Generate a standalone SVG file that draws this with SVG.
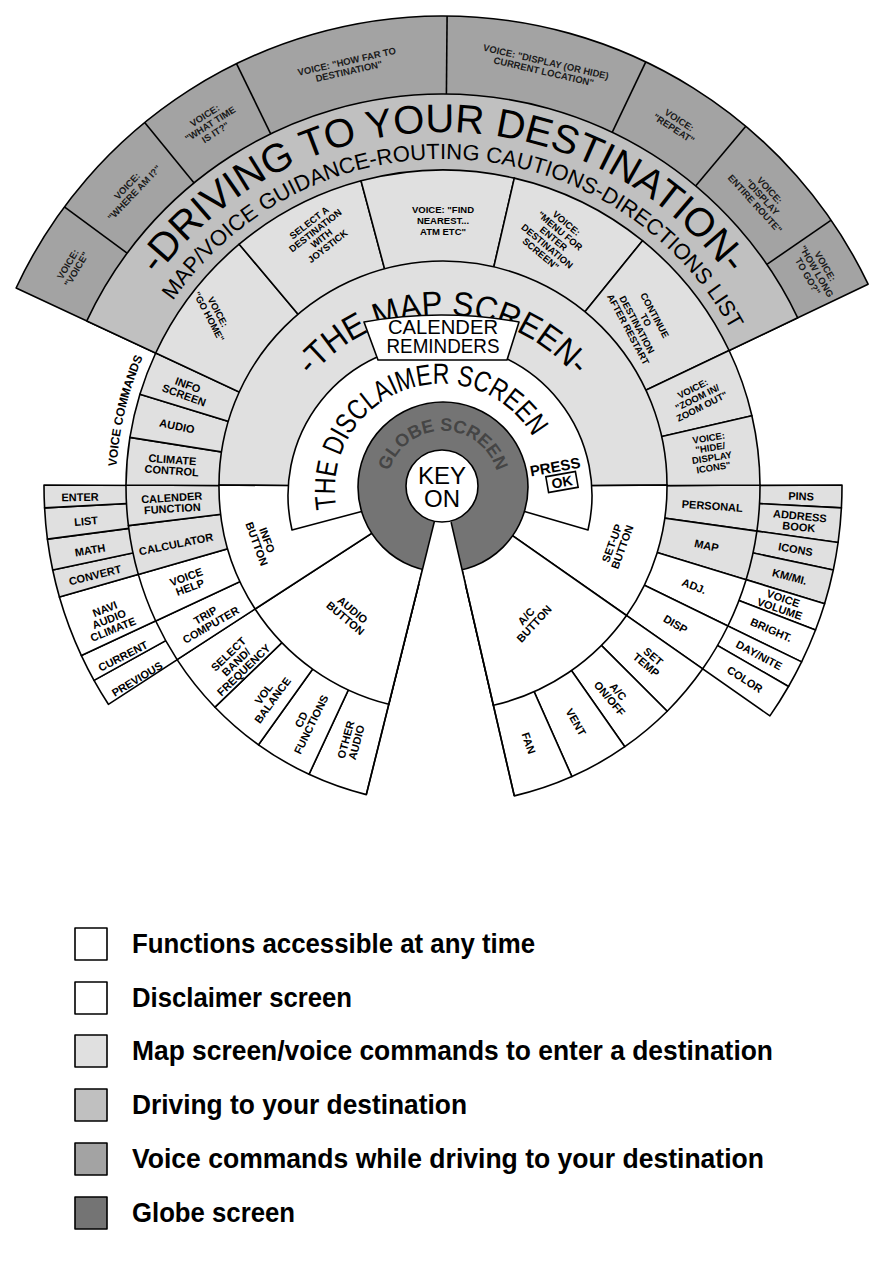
<svg xmlns="http://www.w3.org/2000/svg" width="896" height="1280" viewBox="0 0 896 1280">
<defs>
<style>
.s{stroke:#000;stroke-width:1.6;stroke-linejoin:round}
.w{fill:#fff}.m{fill:#e0e0e0}.d{fill:#c0c0c0}.v{fill:#a3a3a3}.g{fill:#747474}
.ln{fill:none;stroke:#000;stroke-width:1.6}
.lb{font-family:'Liberation Sans',Arial,sans-serif;font-weight:bold;font-size:11px;text-anchor:middle;fill:#000}
.ls{font-family:'Liberation Sans',Arial,sans-serif;font-weight:bold;font-size:9.5px;text-anchor:middle;fill:#000}
.lv{font-family:'Liberation Sans',Arial,sans-serif;font-weight:bold;font-size:9.5px;text-anchor:middle;fill:#1a1a1a}
.arc{font-family:'Liberation Sans',Arial,sans-serif;fill:#000}
.lg{font-family:'Liberation Sans',Arial,sans-serif;font-weight:bold;font-size:28px;fill:#000}
</style>
<path id="pDrive" d="M148.7,288.5 A355,355 0 0 1 737.3,288.5"/>
<path id="pRoute" d="M174.3,298.9 A328,328 0 0 1 729.9,328"/>
<path id="pMap" d="M311.2,376.4 A172,172 0 0 1 574.8,376.4"/>
<path id="pDisc" d="M338.6,517.4 A106,106 0 0 1 537.1,445.2"/>
<path id="pGlobe" d="M387.2,482.1 A56,56 0 0 1 498.8,482.1"/>
<path id="pVC" d="M116.4,469.9 A327,327 0 0 1 144.3,354.0"/>
</defs>
<rect width="896" height="1280" fill="#fff"/>

<g id="voice-driving">
<path class="v s" d="M443,487 L16.1,288 A471,471 0 0 1 868.1,284.2 Z"/>
<text class="lv" transform="translate(71.5,266.4) rotate(-59.3)"><tspan x="0" y="-1">VOICE:</tspan><tspan x="0" y="9">"VOICE"</tspan></text>
<text class="lv" transform="translate(130.2,189) rotate(-46.4)"><tspan x="0" y="-1">VOICE:</tspan><tspan x="0" y="9">"WHERE AM I?"</tspan></text>
<text class="lv" transform="translate(209.8,123.4) rotate(-32.6)"><tspan x="0" y="-6">VOICE:</tspan><tspan x="0" y="4">"WHAT TIME</tspan><tspan x="0" y="14">IS IT?"</tspan></text>
<text class="lv" transform="translate(347.7,65.7) rotate(-12.75)"><tspan x="0" y="-1">VOICE: "HOW FAR TO</tspan><tspan x="0" y="9">DESTINATION"</tspan></text>
<text class="lv" transform="translate(545,66) rotate(13)"><tspan x="0" y="-1">VOICE: "DISPLAY (OR HIDE)</tspan><tspan x="0" y="9">CURRENT LOCATION"</tspan></text>
<text class="lv" transform="translate(676.9,123.8) rotate(32.75)"><tspan x="0" y="-1">VOICE:</tspan><tspan x="0" y="9">"REPEAT"</tspan></text>
<text class="lv" transform="translate(762.8,196.6) rotate(47.75)"><tspan x="0" y="-6">VOICE:</tspan><tspan x="0" y="4">"DISPLAY</tspan><tspan x="0" y="14">ENTIRE ROUTE"</tspan></text>
<text class="lv" transform="translate(817.1,271) rotate(60)"><tspan x="0" y="-6">VOICE:</tspan><tspan x="0" y="4">"HOW LONG</tspan><tspan x="0" y="14">TO GO?"</tspan></text>
</g>

<g id="driving">
<path class="d s" d="M443,487 L86.8,320.9 A393,393 0 0 1 797.7,317.8 Z"/>
<text class="arc" font-size="40"><textPath href="#pDrive" startOffset="50%" text-anchor="middle">-DRIVING TO YOUR DESTINATION-</textPath></text>
<text class="arc" font-size="22"><textPath href="#pRoute" startOffset="50%" text-anchor="middle">MAP/VOICE GUIDANCE-ROUTING CAUTIONS-DIRECTIONS LIST</textPath></text>
</g>

<g id="ring4-right">
<g id="pins"><path class="m s" d="M443,487 L842,485 A399,399 0 0 1 841.4,507.9 Z"/><text class="lb" transform="translate(801,500) rotate(1.5)"><tspan x="0" y="0">PINS</tspan></text></g>
<g id="address-book"><path class="m s" d="M443,487 L841.4,507.9 A399,399 0 0 1 838.1,542.5 Z"/><text class="lb" transform="translate(799.4,521.3) rotate(5.5)"><tspan x="0" y="-1.5">ADDRESS</tspan><tspan x="0" y="9.5">BOOK</tspan></text></g>
<g id="icons"><path class="m s" d="M443,487 L838.1,542.5 A399,399 0 0 1 833.3,570 Z"/><text class="lb" transform="translate(795.6,549.2) rotate(10)"><tspan x="0" y="4">ICONS</tspan></text></g>
<g id="km-mi"><path class="m s" d="M443,487 L833.3,570 A399,399 0 0 1 824.6,603.7 Z"/><text class="lb" transform="translate(789.6,576.6) rotate(14.5)"><tspan x="0" y="4">KM/MI.</tspan></text></g>
<g id="voice-volume"><path class="w s" d="M443,487 L824.6,603.7 A399,399 0 0 1 815.5,630 Z"/><text class="lb" transform="translate(781.5,603.6) rotate(19)"><tspan x="0" y="-1.5">VOICE</tspan><tspan x="0" y="9.5">VOLUME</tspan></text></g>
<g id="bright"><path class="w s" d="M443,487 L815.5,630 A399,399 0 0 1 801.6,661.9 Z"/><text class="lb" transform="translate(771.3,629.8) rotate(23.5)"><tspan x="0" y="4">BRIGHT.</tspan></text></g>
<g id="day-nite"><path class="w s" d="M443,487 L801.6,661.9 A399,399 0 0 1 788.5,686.5 Z"/><text class="lb" transform="translate(759.1,655.1) rotate(28)"><tspan x="0" y="4">DAY/NITE</tspan></text></g>
<g id="color"><path class="w s" d="M443,487 L788.5,686.5 A399,399 0 0 1 769.9,715.9 Z"/><text class="lb" transform="translate(744.9,679.3) rotate(32.5)"><tspan x="0" y="4">COLOR</tspan></text></g>
</g>

<g id="ring4-left">
<g id="previous"><path class="w s" d="M443,487 L108.4,704.3 A399,399 0 0 1 94,680.4 Z"/><text class="lb" transform="translate(137,679) rotate(-31)"><tspan x="0" y="4">PREVIOUS</tspan></text></g>
<g id="current"><path class="w s" d="M443,487 L94,680.4 A399,399 0 0 1 81.4,655.6 Z"/><text class="lb" transform="translate(123,656) rotate(-27)"><tspan x="0" y="4">CURRENT</tspan></text></g>
<g id="navi"><path class="w s" d="M443,487 L81.4,655.6 A399,399 0 0 1 59.4,597 Z"/><text class="lb" transform="translate(109,619) rotate(-22)"><tspan x="0" y="-7">NAVI</tspan><tspan x="0" y="4">AUDIO</tspan><tspan x="0" y="15">CLIMATE</tspan></text></g>
<g id="convert"><path class="m s" d="M443,487 L59.4,597 A399,399 0 0 1 52.7,570 Z"/><text class="lb" transform="translate(95,575) rotate(-14)"><tspan x="0" y="4">CONVERT</tspan></text></g>
<g id="math"><path class="m s" d="M443,487 L52.7,570 A399,399 0 0 1 47.4,539.1 Z"/><text class="lb" transform="translate(90,550) rotate(-9.5)"><tspan x="0" y="4">MATH</tspan></text></g>
<g id="list"><path class="m s" d="M443,487 L47.4,539.1 A399,399 0 0 1 44.6,507.9 Z"/><text class="lb" transform="translate(86,521) rotate(-5)"><tspan x="0" y="4">LIST</tspan></text></g>
<g id="enter"><path class="m s" d="M443,487 L44.6,507.9 A399,399 0 0 1 44,485 Z"/><text class="lb" transform="translate(80,497) rotate(-1)"><tspan x="0" y="4">ENTER</tspan></text></g>
<text class="arc" font-size="12" font-weight="bold"><textPath href="#pVC" startOffset="50%" text-anchor="middle">VOICE COMMANDS</textPath></text>
</g>

<g id="ring3">
<g id="personal"><path class="m s" d="M443,487 L760,485 A317,317 0 0 1 756.9,531.1 Z"/><text class="lb" transform="translate(712.3,505.8) rotate(4)"><tspan x="0" y="4">PERSONAL</tspan></text></g>
<g id="map"><path class="m s" d="M443,487 L756.9,531.1 A317,317 0 0 1 746.1,579.7 Z"/><text class="lb" transform="translate(706.6,545.4) rotate(12.5)"><tspan x="0" y="4">MAP</tspan></text></g>
<g id="adj"><path class="w s" d="M443,487 L746.1,579.7 A317,317 0 0 1 727.9,626 Z"/><text class="lb" transform="translate(694.2,586) rotate(21.5)"><tspan x="0" y="4">ADJ.</tspan></text></g>
<g id="disp"><path class="w s" d="M443,487 L727.9,626 A317,317 0 0 1 702.7,668.8 Z"/><text class="lb" transform="translate(675.6,624) rotate(30.5)"><tspan x="0" y="4">DISP</tspan></text></g>
<g id="set-temp"><path class="w s" d="M443,487 L702.7,668.8 A317,317 0 0 1 667.2,711.2 Z"/><text class="lb" transform="translate(649.8,660.6) rotate(40)"><tspan x="0" y="-1.5">SET</tspan><tspan x="0" y="9.5">TEMP</tspan></text></g>
<g id="ac-onoff"><path class="w s" d="M443,487 L667.2,711.2 A317,317 0 0 1 624.8,746.7 Z"/><text class="lb" transform="translate(614,695) rotate(50)"><tspan x="0" y="-1.5">A/C</tspan><tspan x="0" y="9.5">ON/OFF</tspan></text></g>
<g id="vent"><path class="w s" d="M443,487 L624.8,746.7 A317,317 0 0 1 571.9,776.6 Z"/><text class="lb" transform="translate(576,722) rotate(60.5)"><tspan x="0" y="4">VENT</tspan></text></g>
<g id="fan"><path class="w s" d="M443,487 L571.9,776.6 A317,317 0 0 1 514.3,795.9 Z"/><text class="lb" transform="translate(528.7,743.1) rotate(71.5)"><tspan x="0" y="4">FAN</tspan></text></g>
<g id="other-audio"><path class="w s" d="M443,487 L366.3,794.6 A317,317 0 0 1 309,774.3 Z"/><text class="lb" transform="translate(351,741) rotate(-75)"><tspan x="0" y="-1.5">OTHER</tspan><tspan x="0" y="9.5">AUDIO</tspan></text></g>
<g id="cd-functions"><path class="w s" d="M443,487 L309,774.3 A317,317 0 0 1 258.5,744.8 Z"/><text class="lb" transform="translate(306,722) rotate(-64)"><tspan x="0" y="-1.5">CD</tspan><tspan x="0" y="9.5">FUNCTIONS</tspan></text></g>
<g id="vol-balance"><path class="w s" d="M443,487 L258.5,744.8 A317,317 0 0 1 215,707.2 Z"/><text class="lb" transform="translate(268,697) rotate(-54)"><tspan x="0" y="-1.5">VOL</tspan><tspan x="0" y="9.5">BALANCE</tspan></text></g>
<g id="select-band"><path class="w s" d="M443,487 L215,707.2 A317,317 0 0 1 177.1,659.6 Z"/><text class="lb" transform="translate(236,662) rotate(-44)"><tspan x="0" y="-7">SELECT</tspan><tspan x="0" y="4">BAND/</tspan><tspan x="0" y="15">FREQUENCY</tspan></text></g>
<g id="trip-computer"><path class="w s" d="M443,487 L177.1,659.6 A317,317 0 0 1 155.7,621 Z"/><text class="lb" transform="translate(208,620) rotate(-30)"><tspan x="0" y="-1.5">TRIP</tspan><tspan x="0" y="9.5">COMPUTER</tspan></text></g>
<g id="voice-help"><path class="w s" d="M443,487 L155.7,621 A317,317 0 0 1 138.3,574.4 Z"/><text class="lb" transform="translate(188,582) rotate(-20)"><tspan x="0" y="-1.5">VOICE</tspan><tspan x="0" y="9.5">HELP</tspan></text></g>
<g id="calculator"><path class="m s" d="M443,487 L138.3,574.4 A317,317 0 0 1 128.4,525.6 Z"/><text class="lb" transform="translate(176,544) rotate(-11.5)"><tspan x="0" y="4">CALCULATOR</tspan></text></g>
<g id="calender-function"><path class="m s" d="M443,487 L128.4,525.6 A317,317 0 0 1 126,485 Z"/><text class="lb" transform="translate(172,503) rotate(-3.5)"><tspan x="0" y="-1.5">CALENDER</tspan><tspan x="0" y="9.5">FUNCTION</tspan></text></g>
<g id="climate-control"><path class="m s" d="M443,487 L126,485 A317,317 0 0 1 129.9,437.4 Z"/><text class="lb" transform="translate(172,465) rotate(4)"><tspan x="0" y="-1.5">CLIMATE</tspan><tspan x="0" y="9.5">CONTROL</tspan></text></g>
<g id="audio"><path class="m s" d="M443,487 L129.9,437.4 A317,317 0 0 1 139.9,394.3 Z"/><text class="lb" transform="translate(177,426) rotate(12)"><tspan x="0" y="4">AUDIO</tspan></text></g>
<g id="info-screen"><path class="m s" d="M443,487 L139.9,394.3 A317,317 0 0 1 155.7,353 Z"/><text class="lb" transform="translate(186,390) rotate(20)"><tspan x="0" y="-1.5">INFO</tspan><tspan x="0" y="9.5">SCREEN</tspan></text></g>
<g id="go-home"><path class="m s" d="M443,487 L155.7,353 A317,317 0 0 1 239.2,244.2 Z"/><text class="ls" transform="translate(214,314) rotate(62)"><tspan x="0" y="-1">VOICE:</tspan><tspan x="0" y="9">"GO HOME"</tspan></text></g>
<g id="select-destination"><path class="m s" d="M443,487 L239.2,244.2 A317,317 0 0 1 361,180.8 Z"/><text class="ls" transform="translate(318,234) rotate(-38)"><tspan x="0" y="-11">SELECT A</tspan><tspan x="0" y="-1">DESTINATION</tspan><tspan x="0" y="9">WITH</tspan><tspan x="0" y="19">JOYSTICK</tspan></text></g>
<g id="find-nearest"><path class="m s" d="M443,487 L361,180.8 A317,317 0 0 1 514.3,178.1 Z"/><text class="ls" transform="translate(443,220)"><tspan x="0" y="-7">VOICE: "FIND</tspan><tspan x="0" y="4">NEAREST...</tspan><tspan x="0" y="15">ATM ETC"</tspan></text></g>
<g id="menu"><path class="m s" d="M443,487 L514.3,178.1 A317,317 0 0 1 642.5,240.7 Z"/><text class="ls" transform="translate(554,238) rotate(40)"><tspan x="0" y="-16">VOICE:</tspan><tspan x="0" y="-6">"MENU FOR</tspan><tspan x="0" y="4">ENTER</tspan><tspan x="0" y="14">DESTINATION</tspan><tspan x="0" y="24">SCREEN"</tspan></text></g>
<g id="continue"><path class="m s" d="M443,487 L642.5,240.7 A317,317 0 0 1 729.1,350.5 Z"/><text class="ls" transform="translate(642,322) rotate(62)"><tspan x="0" y="-11">CONTINUE</tspan><tspan x="0" y="-1">TO</tspan><tspan x="0" y="9">DESTINATION</tspan><tspan x="0" y="19">AFTER RESTART</tspan></text></g>
<g id="zoom"><path class="m s" d="M443,487 L729.1,350.5 A317,317 0 0 1 751.9,415.7 Z"/><text class="ls" transform="translate(697,397) rotate(-27)"><tspan x="0" y="-6">VOICE:</tspan><tspan x="0" y="4">"ZOOM IN/</tspan><tspan x="0" y="14">ZOOM OUT"</tspan></text></g>
<g id="hide-display"><path class="m s" d="M443,487 L751.9,415.7 A317,317 0 0 1 760,485 Z"/><text class="ls" transform="translate(711,452) rotate(-9)"><tspan x="0" y="-11">VOICE:</tspan><tspan x="0" y="-1">"HIDE/</tspan><tspan x="0" y="9">DISPLAY</tspan><tspan x="0" y="19">ICONS"</tspan></text></g>
</g>

<g id="map-screen">
<path class="m s" d="M443,487 L219,485 A224,224 0 0 1 667,485 Z"/>
<text class="arc" font-size="34"><textPath href="#pMap" startOffset="50%" text-anchor="middle" textLength="300" lengthAdjust="spacingAndGlyphs">-THE MAP SCREEN-</textPath></text>
</g>

<g id="buttons">
<g id="setup-button"><path class="w s" d="M443,487 L667,485 A224,224 0 0 1 626.5,615.5 Z"/><text class="lb" transform="translate(617,545) rotate(-70)"><tspan x="0" y="-1.5">SET-UP</tspan><tspan x="0" y="9.5">BUTTON</tspan></text></g>
<g id="ac-button"><path class="w s" d="M443,487 L626.5,615.5 A224,224 0 0 1 493.4,705.3 Z"/><text class="lb" transform="translate(530,620) rotate(-47)"><tspan x="0" y="-1.5">A/C</tspan><tspan x="0" y="9.5">BUTTON</tspan></text></g>
<g id="audio-button"><path class="w s" d="M443,487 L388.8,704.3 A224,224 0 0 1 255.1,609 Z"/><text class="lb" transform="translate(349,614) rotate(40)"><tspan x="0" y="-1.5">AUDIO</tspan><tspan x="0" y="9.5">BUTTON</tspan></text></g>
<g id="info-button"><path class="w s" d="M443,487 L255.1,609 A224,224 0 0 1 219,485 Z"/><text class="lb" transform="translate(262,542) rotate(70)"><tspan x="0" y="-1.5">INFO</tspan><tspan x="0" y="9.5">BUTTON</tspan></text></g>
</g>

<g id="disclaimer">
<path class="w s" d="M371,509 L292,530 A152,152 0 1 1 588,530 L516,509 Z"/>
<text class="arc" font-size="29"><textPath href="#pDisc" startOffset="50%" text-anchor="middle" textLength="296" lengthAdjust="spacingAndGlyphs">THE DISCLAIMER SCREEN</textPath></text>
<text class="arc" font-size="15" font-weight="bold" text-anchor="middle" transform="translate(556,472) rotate(-10)">PRESS</text>
<g transform="translate(562,482) rotate(-10)"><rect x="-15" y="-8" width="30" height="16" fill="#fff" stroke="#000" stroke-width="1.6"/><text class="arc" font-size="14" font-weight="bold" text-anchor="middle" y="5">OK</text></g>
</g>

<g id="calender-reminders">
<path class="w s" d="M364,322 Q441,308 519,322 L507,360 L378,360 Z"/>
<text class="arc" font-size="21" text-anchor="middle" x="443" y="334" textLength="110" lengthAdjust="spacingAndGlyphs">CALENDER</text>
<text class="arc" font-size="21" text-anchor="middle" x="443" y="353" textLength="113" lengthAdjust="spacingAndGlyphs">REMINDERS</text>
</g>

<g id="globe">
<circle class="g s" cx="443" cy="487" r="85"/>
<text class="arc" font-size="18" font-weight="bold" fill="#454545"><textPath href="#pGlobe" startOffset="50%" text-anchor="middle" fill="#454545">GLOBE SCREEN</textPath></text>
<path fill="#fff" d="M443,487 L465.5,584.4 L418.8,584 Z"/>
</g>

<g id="connectors">
<line class="ln" x1="434.3" y1="521.9" x2="366.3" y2="794.6"/>
<line class="ln" x1="451.1" y1="522.1" x2="514.3" y2="795.9"/>
<line class="ln" x1="127.1" y1="253.2" x2="64.4" y2="206.8"/>
<line class="ln" x1="194.1" y1="182.9" x2="144.7" y2="122.5"/>
<line class="ln" x1="270.7" y1="133.8" x2="236.5" y2="63.7"/>
<line class="ln" x1="446.4" y1="94" x2="447.1" y2="16"/>
<line class="ln" x1="612.2" y1="132.3" x2="645.8" y2="61.9"/>
<line class="ln" x1="695.6" y1="186" x2="745.8" y2="126.2"/>
<line class="ln" x1="766.9" y1="264.4" x2="831.2" y2="220.2"/>
</g>

<g id="key-on">
<circle class="w s" cx="442" cy="486" r="36"/>
<text class="arc" font-size="24" text-anchor="middle" x="442" y="484">KEY</text>
<text class="arc" font-size="24" text-anchor="middle" x="442" y="507">ON</text>
</g>

<g id="legend">
<rect class="w s" x="75" y="928" width="32" height="32"/>
<text class="lg" x="132" y="953" textLength="403" lengthAdjust="spacingAndGlyphs">Functions accessible at any time</text>
<rect class="w s" x="75" y="982" width="32" height="32"/>
<text class="lg" x="132" y="1007" textLength="220" lengthAdjust="spacingAndGlyphs">Disclaimer screen</text>
<rect class="m s" x="75" y="1035" width="32" height="32"/>
<text class="lg" x="132" y="1060" textLength="641" lengthAdjust="spacingAndGlyphs">Map screen/voice commands to enter a destination</text>
<rect class="d s" x="75" y="1089" width="32" height="32"/>
<text class="lg" x="132" y="1114" textLength="335" lengthAdjust="spacingAndGlyphs">Driving to your destination</text>
<rect class="v s" x="75" y="1143" width="32" height="32"/>
<text class="lg" x="132" y="1168" textLength="632" lengthAdjust="spacingAndGlyphs">Voice commands while driving to your destination</text>
<rect class="g s" x="75" y="1197" width="32" height="32"/>
<text class="lg" x="132" y="1222" textLength="163" lengthAdjust="spacingAndGlyphs">Globe screen</text>
</g>
</svg>
